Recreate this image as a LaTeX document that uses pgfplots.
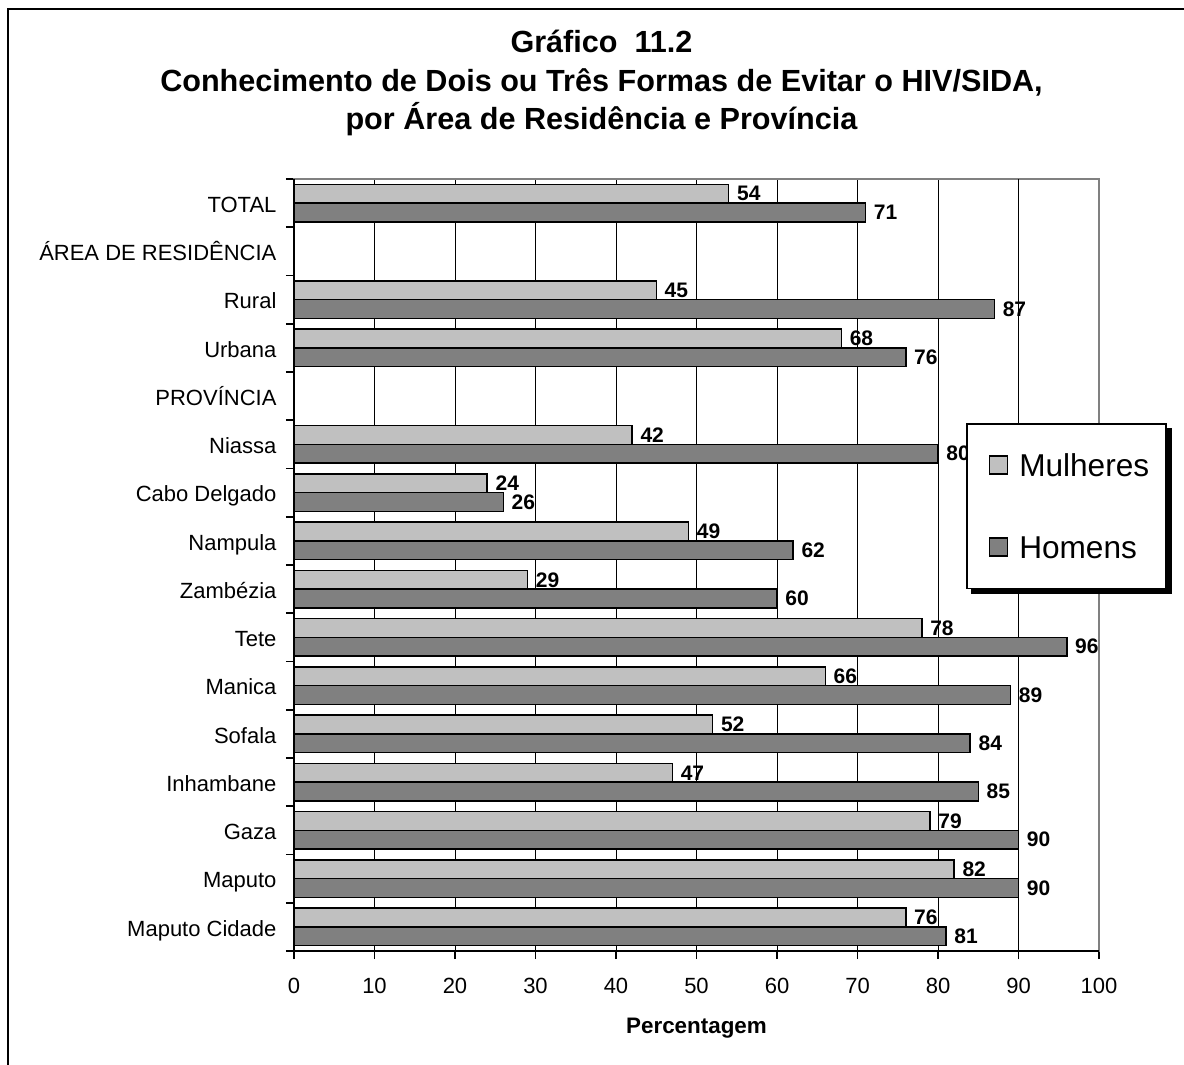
\documentclass[border=0pt]{standalone}
\usepackage{fontspec}
\setmainfont{Liberation Sans}
\usepackage{pgfplots}
\pgfplotsset{compat=1.18}
\definecolor{mulh}{HTML}{C0C0C0}
\definecolor{homs}{HTML}{808080}
\begin{document}
\begin{tikzpicture}
\useasboundingbox (0,0) rectangle (592pt,-532.5pt);
\draw[line width=1.1pt] (3.9pt,-532.5pt) -- (3.9pt,-4.6pt) -- (592pt,-4.6pt);
\node[anchor=base, font=\bfseries\fontsize{15.3}{18}\selectfont] at (300.75pt,-26.2pt) {Gráfico\ \ 11.2};
\node[anchor=base, font=\bfseries\fontsize{15.3}{18}\selectfont] at (300.75pt,-46pt) {Conhecimento de Dois ou Três Formas de Evitar o HIV/SIDA,};
\node[anchor=base, font=\bfseries\fontsize{15.3}{18}\selectfont] at (300.75pt,-65pt) {por Área de Residência e Província};
\begin{axis}[
  at={(147pt,-475.5pt)}, anchor=south west,
  scale only axis, width=402.5pt, height=386pt,
  xbar, bar width=9.35pt,
  legend image code/.code={\path (0pt,0pt);\draw[#1,line width=0.75pt] (2.5pt,-4.5pt) rectangle (11.5pt,4.5pt);},
  xmin=0, xmax=100, ymin=-0.5, ymax=15.5,
  /pgf/number format/assume math mode=true,
  xtick={0,10,...,100},
  ytick={-0.5,0.5,...,15.5}, yticklabels={},
  extra y ticks={0,1,...,15},
  extra y tick labels={Maputo Cidade, Maputo, Gaza, Inhambane, Sofala, Manica, Tete, Zambézia, Nampula, Cabo Delgado, Niassa, PROVÍNCIA, Urbana, Rural, ÁREA DE RESIDÊNCIA, TOTAL},
  extra y tick style={major tick length=0pt, tick style={draw=none},
     yticklabel style={anchor=base east, xshift=-5.25pt, yshift=-4.6pt}},
  extra x ticks={90}, extra x tick labels={},
  extra x tick style={grid style={black, line width=0.85pt}},
  tick align=outside, tick pos=left,
  major tick length=4pt,
  tick style={black, line width=0.85pt},
  xmajorgrids, grid style={black, line width=0.35pt},
  axis line style={draw=homs, line width=0.85pt},
  ticklabel style={font=\fontsize{11}{13}\selectfont},
  xticklabel style={anchor=base, yshift=-17pt},
  xlabel={Percentagem},
  xlabel style={at={(axis description cs:0.5,0)}, anchor=base, yshift=-41pt, font=\bfseries\fontsize{11.2}{13}\selectfont},
  nodes near coords,
  every node near coord/.append style={font=\bfseries\fontsize{10.5}{12}\selectfont, anchor=west, xshift=0.5pt, black},
  legend style={name=leg, at={(rel axis cs:0.8348,0.6839)}, anchor=north west, draw=black, line width=0.75pt, fill=white,
     inner xsep=8.5pt, inner ysep=15pt, row sep=29.7pt,
     nodes={font=\fontsize{15.8}{18}\selectfont, inner sep=0pt, text height=11.3pt, text depth=0pt},
     /tikz/every odd column/.style={column sep=5.5pt},
     /tikz/every even column/.style={column sep=0pt}},
  legend cell align=left,
  after end axis/.code={\draw[black, line width=0.85pt] (rel axis cs:0,1) -- (rel axis cs:0,0) -- (rel axis cs:1,0);},
]
\addplot[fill=mulh, draw=black, line width=0.75pt, bar shift=4.675pt] coordinates {
 (54,15) (45,13) (68,12) (42,10) (24,9) (49,8) (29,7) (78,6) (66,5) (52,4) (47,3) (79,2) (82,1) (76,0)};
\addlegendentry{Mulheres}
\addplot[fill=homs, draw=black, line width=0.75pt, bar shift=-4.675pt] coordinates {
 (71,15) (87,13) (76,12) (80,10) (26,9) (62,8) (60,7) (96,6) (89,5) (84,4) (85,3) (90,2) (90,1) (81,0)};
\addlegendentry{Homens}
\end{axis}
\fill[black] ([yshift=-2.5pt]leg.north east) rectangle ([xshift=2.5pt,yshift=-2.5pt]leg.south east);
\fill[black] ([xshift=2.5pt]leg.south west) rectangle ([xshift=2.5pt,yshift=-2.5pt]leg.south east);
\end{tikzpicture}
\end{document}
